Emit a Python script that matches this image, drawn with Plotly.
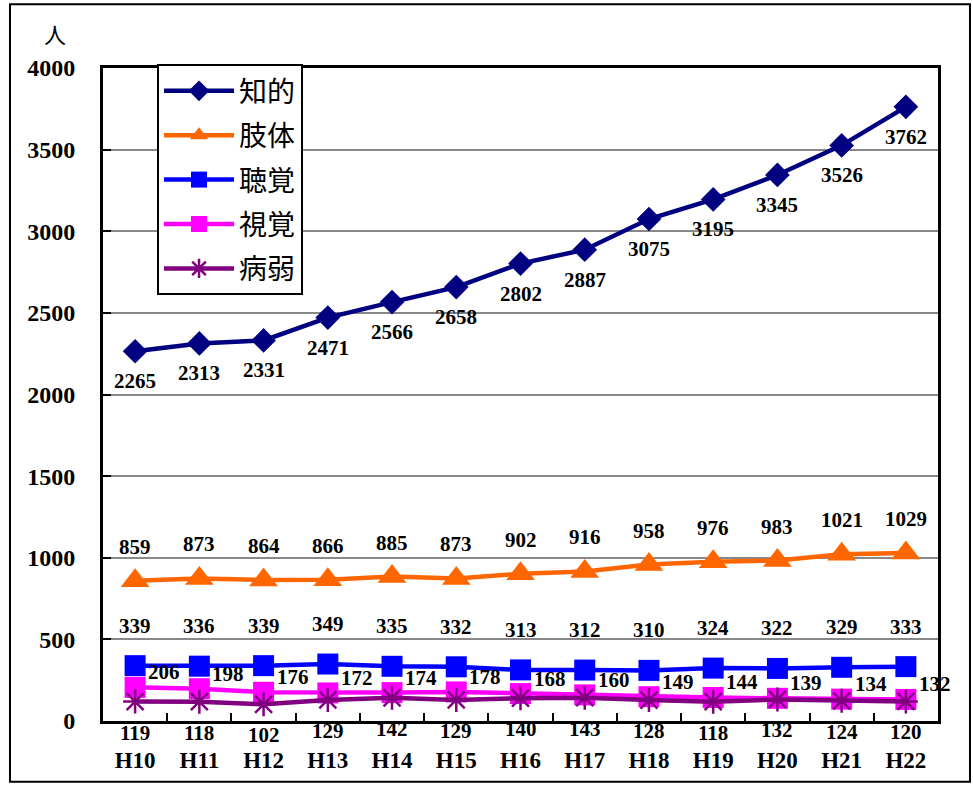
import plotly.graph_objects as go

years = ["H10", "H11", "H12", "H13", "H14", "H15", "H16", "H17", "H18", "H19", "H20", "H21", "H22"]
chiteki = [2265, 2313, 2331, 2471, 2566, 2658, 2802, 2887, 3075, 3195, 3345, 3526, 3762]
shitai = [859, 873, 864, 866, 885, 873, 902, 916, 958, 976, 983, 1021, 1029]
choukaku = [339, 336, 339, 349, 335, 332, 313, 312, 310, 324, 322, 329, 333]
shikaku = [206, 198, 176, 172, 174, 178, 168, 160, 149, 144, 139, 134, 132]
byoujaku = [119, 118, 102, 129, 142, 129, 140, 143, 128, 118, 132, 124, 120]
y_ticks = [0, 500, 1000, 1500, 2000, 2500, 3000, 3500, 4000]

series = [
    ("知的", chiteki, "#000080", "diamond", 19, 0, -30),
    ("肢体", shitai, "#FF6600", "triangle-up", 25, 0, 34),
    ("聴覚", choukaku, "#0000FF", "square", 21, 0, 40),
    ("視覚", shikaku, "#FF00FF", "square", 21, 29, 15),
    ("病弱", byoujaku, "#800080", "asterisk-open", 20, 0, -31),
]

fig = go.Figure()
annotations = []
num_font = dict(family="Liberation Serif, Times New Roman, serif", size=21, color="black", weight="bold")
for i, (name, vals, color, sym, msize, xs, ys) in enumerate(series):
    if sym == "asterisk-open":
        marker = dict(symbol=sym, size=msize, color=color, line=dict(color=color, width=2.5))
    else:
        marker = dict(symbol=sym, size=msize, color=color, line=dict(width=0))
    fig.add_trace(go.Scatter(
        x=years, y=vals, name=name, mode="lines+markers",
        line=dict(color=color, width=4.5), marker=marker,
        legendgroup=f"g{i}",
    ))
    for xv, yv in zip(years, vals):
        annotations.append(dict(
            x=xv, y=yv, xref="x", yref="y", text=str(yv), showarrow=False,
            xshift=xs, yshift=ys, font=num_font, borderpad=0,
        ))

annotations.append(dict(
    x=-0.0575, y=1.053, xref="paper", yref="paper", text="人", showarrow=False,
    xanchor="center", yanchor="middle",
    font=dict(family="Noto Sans CJK JP", size=22, color="black"),
))

fig.update_layout(
    width=973, height=785,
    margin=dict(l=103, r=35, t=68, b=62),
    paper_bgcolor="white", plot_bgcolor="white",
    showlegend=True,
    legend=dict(
        x=0.0647, y=1.006, xanchor="left", yanchor="top",
        bgcolor="white", bordercolor="black", borderwidth=2,
        font=dict(family="Noto Sans CJK JP", size=28, color="black"),
        tracegroupgap=5, itemwidth=70,
    ),
    annotations=annotations,
    shapes=[dict(type="rect", xref="paper", yref="paper",
                 x0=-0.1114, x1=1.0383, y0=-0.0931, y1=1.0977,
                 line=dict(color="black", width=2), layer="below")],
)
fig.update_xaxes(
    type="category", range=[-0.5, 12.5], tickson="boundaries", ticks="inside", ticklen=8, tickwidth=2,
    tickcolor="black", showline=True, linecolor="black", linewidth=3, mirror=True,
    showgrid=False, ticklabelstandoff=16,
    tickfont=dict(family="Liberation Serif, Times New Roman, serif", size=23, color="black", weight="bold"),
)
fig.update_yaxes(
    range=[0, 4000], tickvals=y_ticks, ticks="inside", ticklen=8, tickwidth=2,
    tickcolor="black", showline=True, linecolor="black", linewidth=3, mirror=True,
    showgrid=True, gridcolor="#888888", gridwidth=2, zeroline=False,
    ticklabelstandoff=20,
    tickfont=dict(family="Liberation Serif, Times New Roman, serif", size=24, color="black", weight="bold"),
)

fig.write_html("out.html")
